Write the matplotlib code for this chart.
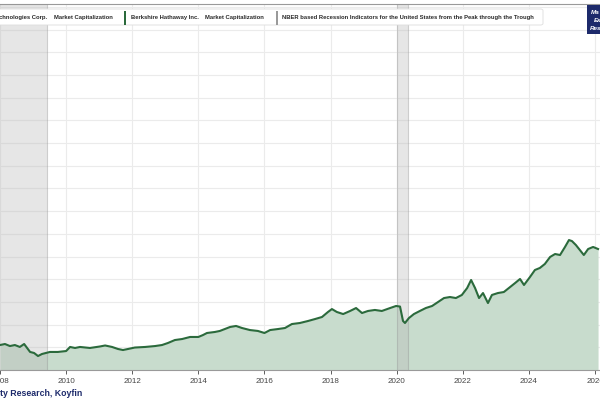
import matplotlib.pyplot as plt
from matplotlib.patches import Rectangle, FancyBboxPatch
from matplotlib.ticker import MultipleLocator

# Berkshire Hathaway market cap ($B)
years = [2008.00, 2008.15, 2008.30, 2008.45, 2008.60, 2008.73, 2008.82, 2008.91,
         2009.03, 2009.15, 2009.27, 2009.39, 2009.51, 2009.75, 2010.00, 2010.12,
         2010.27, 2010.42, 2010.72, 2011.02, 2011.18, 2011.39, 2011.57, 2011.72,
         2011.87, 2012.08, 2012.39, 2012.69, 2012.90, 2013.08, 2013.29, 2013.51,
         2013.75, 2014.00, 2014.14, 2014.26, 2014.50, 2014.65, 2014.96, 2015.14,
         2015.32, 2015.56, 2015.80, 2016.00, 2016.17, 2016.41, 2016.62, 2016.83,
         2017.07, 2017.32, 2017.53, 2017.74, 2017.92, 2018.04, 2018.19, 2018.38,
         2018.59, 2018.77, 2018.95, 2019.13, 2019.34, 2019.55, 2019.80, 2019.98,
         2020.10, 2020.19, 2020.25, 2020.37, 2020.52, 2020.70, 2020.88, 2021.07,
         2021.25, 2021.43, 2021.61, 2021.79, 2021.97, 2022.13, 2022.25, 2022.37,
         2022.49, 2022.61, 2022.76, 2022.88, 2023.06, 2023.24, 2023.43, 2023.58,
         2023.73, 2023.85, 2024.03, 2024.18, 2024.33, 2024.48, 2024.64, 2024.79,
         2024.94, 2025.09, 2025.21, 2025.30, 2025.42, 2025.54, 2025.66, 2025.79,
         2025.94, 2026.09]
brk = [220, 229, 211, 220, 203, 229, 194, 159,
       150, 123, 141, 150, 159, 159, 167, 203,
       194, 203, 194, 207, 216, 203, 185, 176,
       185, 198, 203, 211, 220, 238, 264, 273,
       291, 291, 308, 326, 335, 344, 379, 388,
       370, 352, 344, 326, 352, 361, 370, 405,
       414, 432, 449, 467, 511, 537, 511, 493,
       520, 546, 502, 520, 529, 520, 546, 564,
       559, 432, 414, 458, 493, 520, 546, 564,
       599, 634, 643, 634, 661, 722, 793, 722,
       634, 678, 590, 661, 678, 687, 731, 766,
       802, 749, 819, 881, 899, 934, 996, 1022,
       1013, 1084, 1145, 1136, 1101, 1057, 1013, 1066,
       1084, 1066]

recessions = [(2007.85, 2009.42), (2020.0, 2020.33)]
xticks = [2008, 2010, 2012, 2014, 2016, 2018, 2020, 2022, 2024, 2026]
legend_items = ["chnologies Corp.", "Market Capitalization",
                "Berkshire Hathaway Inc.", "Market Capitalization",
                "NBER based Recession Indicators for the United States from the Peak through the Trough"]

plt.rcParams['font.family'] = ['Liberation Sans', 'DejaVu Sans']

fig = plt.figure(figsize=(6, 4), dpi=100)
ax = fig.add_axes([0, 30 / 400, 1, 366 / 400])

line_col = '#2b6a3c'
ax.fill_between(years, brk, 0, color='#c8dccd', lw=0, zorder=2)
ax.plot(years, brk, color=line_col, lw=1.5, zorder=4)

for a, b in recessions:
    ax.axvspan(a, b, facecolor='#b8b8b8', alpha=0.35, edgecolor='#8a8a8a', lw=0.8, zorder=3)

ax.set_xlim(2008.0, 2008 + 600 / 33.06)
ax.set_ylim(0, 366 / 22.7 * 200)
ax.yaxis.set_major_locator(MultipleLocator(200))
ax.set_xticks(xticks)
ax.set_xticklabels([str(t) for t in xticks])
ax.tick_params(axis='x', labelsize=5.8, colors='#444444', length=3, width=0.6, pad=3)
ax.tick_params(axis='y', left=False, labelleft=False)
ax.grid(True, color='#ebebeb', lw=0.8, zorder=0)
ax.set_axisbelow(True)
for s in ['left', 'right']:
    ax.spines[s].set_visible(False)
for s in ['top', 'bottom']:
    ax.spines[s].set_color('#9a9a9a')
    ax.spines[s].set_linewidth(0.8)

# legend strip at the top
def fx(px):
    return px / 600

def fy(py):
    return 1 - py / 400

box = FancyBboxPatch((fx(-10), fy(25)), fx(553), 16 / 400, boxstyle='round,pad=0,rounding_size=0.004',
                     transform=fig.transFigure, facecolor='white', edgecolor='#dddddd', lw=0.6, zorder=10)
fig.patches.append(box)
text_x = [-1, 54, 131, 205, 282]
for x, t in zip(text_x, legend_items):
    fig.text(fx(x), fy(17.5), t, fontsize=4.2, fontweight='bold', color='#2a2a2a', va='center', ha='left', zorder=11)
for x, c in [(124, line_col), (276, '#9a9a9a')]:
    fig.patches.append(Rectangle((fx(x), fy(25)), 2.2 / 600, 14 / 400, transform=fig.transFigure,
                                 facecolor=c, edgecolor='none', zorder=11))

# blue badge at top right, cut off
fig.patches.append(Rectangle((fx(587), fy(34)), fx(20), 29 / 400, transform=fig.transFigure,
                             facecolor='#1d2a6b', edgecolor='none', zorder=11))
for x, y, t in [(590.5, 13, "Ma"), (594, 20.5, "Ex"), (589.5, 28, "Res")]:
    fig.text(fx(x), fy(y), t, fontsize=4.5, fontweight='bold', style='italic', color='white',
             va='center', ha='left', zorder=12)

fig.text(0, fy(393), "ty Research, Koyfin", fontsize=6.3, fontweight='bold', color='#1d2a6b',
         va='center', ha='left')

fig.savefig('out.png', dpi=100)
